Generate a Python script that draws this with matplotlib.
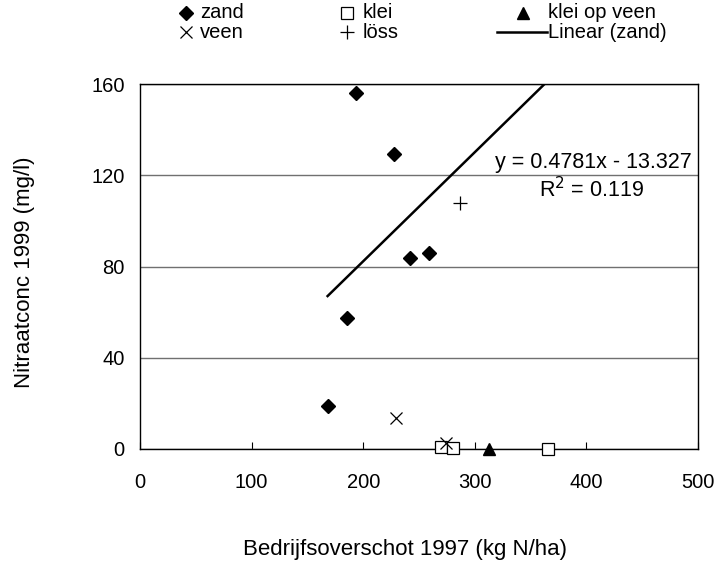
import matplotlib
matplotlib.use("Agg")
import matplotlib.pyplot as plt

plt.rcParams['font.family'] = ['Liberation Sans', 'DejaVu Sans']

# data
zand_x = [193.4, 227.7, 241.8, 259.1, 185.4, 168.1]
zand_y = [155.9, 129.2, 83.9, 86.1, 57.6, 18.9]
klei_x = [269.3, 280.6, 365.7]
klei_y = [1.0, 0.3, 0.0]
kleiopveen_x = [312.8]
kleiopveen_y = [0.0]
veen_x = [229.8, 274.6]
veen_y = [13.5, 2.8]
loss_x = [287.0]
loss_y = [108.0]
trend_slope = 0.4781
trend_intercept = -13.327
trend_r2 = 0.119
trend_x = [168.1, 370.0]
x_ticks = [0, 100, 200, 300, 400, 500]
y_ticks = [0, 40, 80, 120, 160]
legend_labels = ['zand', 'veen', 'klei', 'löss', 'klei op veen', 'Linear (zand)']

FS_TICK = 14.5
FS_LEG = 14.5
FS_ANN = 15.5
FS_LAB = 16

fig = plt.figure(figsize=(7.19, 5.65), dpi=100)
ax = fig.add_axes([140/719, 1-449/565, 558/719, 365/565])

ax.set_xlim(0, 500)
ax.set_ylim(0, 160)
ax.set_xticks(x_ticks)
ax.set_yticks(y_ticks)
ax.yaxis.grid(True, color='#707070', linewidth=1.0)
ax.set_axisbelow(True)
for s in ax.spines.values():
    s.set_linewidth(1.0)
    s.set_color('black')
ax.tick_params(axis='x', direction='in', length=5, width=0.8, labelsize=FS_TICK, pad=17)
ax.tick_params(axis='y', direction='in', length=0, labelsize=FS_TICK, pad=11)

ty = [trend_slope * x + trend_intercept for x in trend_x]
ax.plot(trend_x, ty, color='black', linewidth=1.8, zorder=3)

ax.plot(zand_x, zand_y, 'D', color='black', markersize=7, linestyle='none', clip_on=False, zorder=4)
ax.plot(klei_x, klei_y, 's', markerfacecolor='white', markeredgecolor='black', markersize=9,
        markeredgewidth=0.9, linestyle='none', clip_on=False, zorder=4)
ax.plot(kleiopveen_x, kleiopveen_y, '^', color='black', markersize=9, linestyle='none', clip_on=False, zorder=4)
ax.plot(veen_x, veen_y, 'x', color='black', markersize=9, markeredgewidth=0.9, linestyle='none', clip_on=False, zorder=5)
ax.plot(loss_x, loss_y, '+', color='black', markersize=10, markeredgewidth=0.9, linestyle='none', clip_on=False, zorder=5)

ax.text(494, 125.5, 'y = %.4fx - %.3f' % (trend_slope, -trend_intercept), ha='right', va='center', fontsize=FS_ANN)
ax.text(405, 113.5, 'R$^{2}$ = %.3f' % trend_r2, ha='center', va='center', fontsize=FS_ANN)

fig.text(405/719, 1-549/565, 'Bedrijfsoverschot 1997 (kg N/ha)', ha='center', va='center', fontsize=FS_LAB)
fig.text(25/719, 1-272/565, 'Nitraatconc 1999 (mg/l)', ha='center', va='center', rotation=90, fontsize=FS_LAB)

# manual legend in pixel coordinates
lg = fig.add_axes([0, 0, 1, 1], facecolor='none')
lg.set_xlim(0, 719)
lg.set_ylim(565, 0)
lg.axis('off')
r1, r2 = 13, 32
lg.plot([186], [r1], 'D', color='black', markersize=7)
lg.plot([186], [r2], 'x', color='black', markersize=9, markeredgewidth=0.9)
lg.plot([347], [r1], 's', markerfacecolor='white', markeredgecolor='black', markersize=9, markeredgewidth=0.9)
lg.plot([347], [r2], '+', color='black', markersize=10, markeredgewidth=0.9)
lg.plot([523], [r1], '^', color='black', markersize=9)
lg.plot([497, 547], [r2, r2], color='black', linewidth=1.8)
tx = [200, 200, 363, 363, 548, 548]
tyy = [r1, r2, r1, r2, r1, r2]
for lab, x, y in zip(legend_labels, tx, tyy):
    lg.text(x, y, lab, ha='left', va='center', fontsize=FS_LEG)

fig.savefig('out.png', dpi=100)
